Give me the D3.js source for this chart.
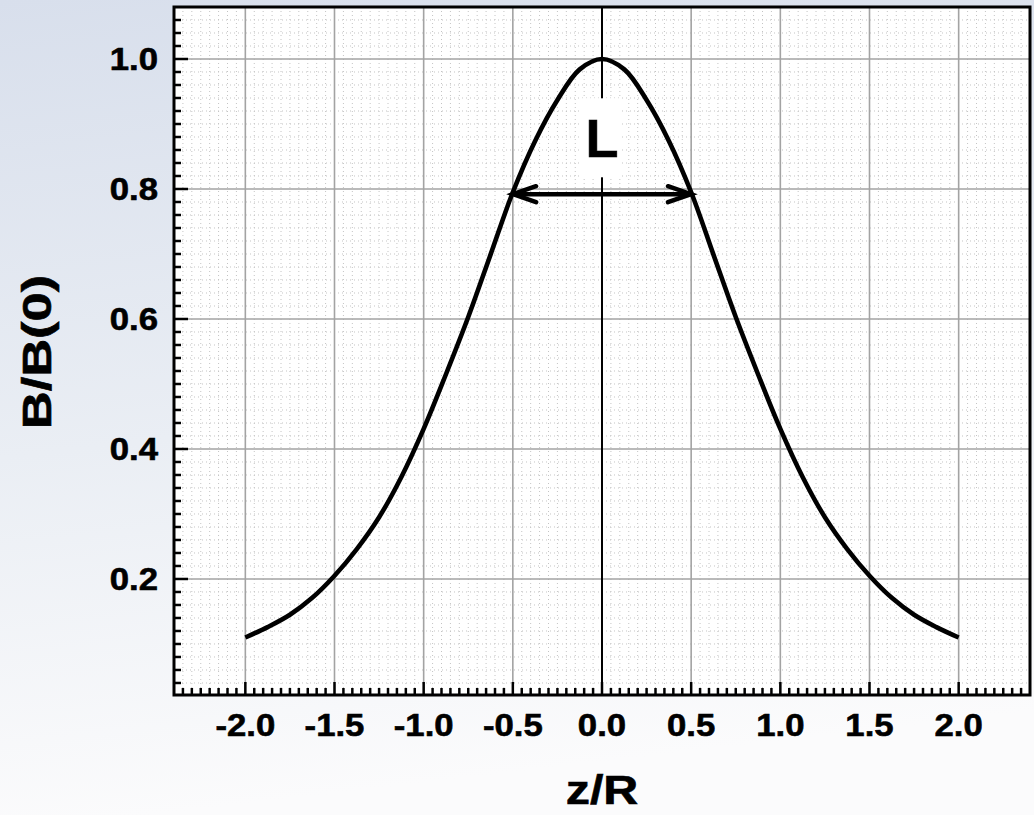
<!DOCTYPE html>
<html>
<head>
<meta charset="utf-8">
<script src="https://cdn.jsdelivr.net/npm/d3@7"></script>
<style>
  html, body { margin: 0; padding: 0; background: #fff; }
  svg { display: block; }
  text { font-family: "Liberation Sans", Arial, Helvetica, sans-serif; font-weight: bold; fill: #000; stroke: #000; stroke-width: 0.6; }
</style>
</head>
<body>
<svg id="chart" width="1034" height="815"></svg>
<script>
// Axial field profile B/B(0) against z/R
const zPoints    = [-2.0, -1.875, -1.75, -1.625, -1.5, -1.375, -1.25, -1.125, -1.0, -0.875, -0.75, -0.625, -0.5, -0.375, -0.25, -0.125, 0.0,
                     0.125, 0.25, 0.375, 0.5, 0.625, 0.75, 0.875, 1.0, 1.125, 1.25, 1.375, 1.5, 1.625, 1.75, 1.875, 2.0];
const fieldRatio = [0.110, 0.126, 0.145, 0.171, 0.205, 0.246, 0.295, 0.357, 0.431, 0.515, 0.603, 0.699, 0.795, 0.874, 0.937, 0.984, 1.000,
                    0.984, 0.937, 0.874, 0.795, 0.699, 0.603, 0.515, 0.431, 0.357, 0.295, 0.246, 0.205, 0.171, 0.145, 0.126, 0.110];

// Axis ticks and labels
const xMajorTicks = [-2.0, -1.5, -1.0, -0.5, 0.0, 0.5, 1.0, 1.5, 2.0];
const xTickLabels = ["-2.0", "-1.5", "-1.0", "-0.5", "0.0", "0.5", "1.0", "1.5", "2.0"];
const yMajorTicks = [0.2, 0.4, 0.6, 0.8, 1.0];
const yTickLabels = ["0.2", "0.4", "0.6", "0.8", "1.0"];
const xTitle = "z/R";
const yTitle = "B/B(0)";

// Width annotation (double arrow) and its label
const widthSpan  = [-0.51, 0.51];
const widthLevel = 0.792;
const widthLabel = "L";
const widthLabelLevel = 0.878;

const svg = d3.select("#chart");
const W = 1034, H = 815;
const plot = { left: 174, right: 1030, top: 7, bottom: 695 };

const x = d3.scaleLinear().domain([-2.4, 2.4]).range([plot.left, plot.right]);
const y = d3.scaleLinear().domain([0.0215, 1.08]).range([plot.bottom, plot.top]);

// page background gradient
const defs = svg.append("defs");
const grad = defs.append("linearGradient").attr("id", "bg").attr("x1", 0).attr("y1", 0).attr("x2", 0.15).attr("y2", 1);
grad.append("stop").attr("offset", "0%").attr("stop-color", "#d8dfec");
grad.append("stop").attr("offset", "55%").attr("stop-color", "#eaeef4");
grad.append("stop").attr("offset", "100%").attr("stop-color", "#fbfbfc");
svg.append("rect").attr("width", W).attr("height", H).attr("fill", "url(#bg)");

// plot area
svg.append("rect")
  .attr("x", plot.left).attr("y", plot.top)
  .attr("width", plot.right - plot.left).attr("height", plot.bottom - plot.top)
  .attr("fill", "#fff");

const round = v => Math.round(v * 1000) / 1000;
const xMinor = d3.range(-47, 48).map(i => round(i * 0.05)).filter(v => !xMajorTicks.some(m => Math.abs(m - v) < 1e-6));
const yMinor = d3.range(2, 55).map(i => round(i * 0.02)).filter(v => v < 1.079 && !yMajorTicks.some(m => Math.abs(m - v) < 1e-6));

// minor dotted grid
const grid = svg.append("g");
grid.selectAll("line.xm").data(xMinor).join("line")
  .attr("x1", d => x(d)).attr("x2", d => x(d))
  .attr("y1", plot.top).attr("y2", plot.bottom)
  .attr("stroke", "#c4c4c4").attr("stroke-width", 1).attr("stroke-dasharray", "1,3");
grid.selectAll("line.ym").data(yMinor).join("line")
  .attr("y1", d => y(d)).attr("y2", d => y(d))
  .attr("x1", plot.left).attr("x2", plot.right)
  .attr("stroke", "#c4c4c4").attr("stroke-width", 1).attr("stroke-dasharray", "1,3");

// major grid
grid.selectAll("line.xM").data(xMajorTicks.filter(d => d !== 0)).join("line")
  .attr("x1", d => x(d)).attr("x2", d => x(d))
  .attr("y1", plot.top).attr("y2", plot.bottom)
  .attr("stroke", "#a3a3a3").attr("stroke-width", 1.6);
grid.selectAll("line.yM").data(yMajorTicks).join("line")
  .attr("y1", d => y(d)).attr("y2", d => y(d))
  .attr("x1", plot.left).attr("x2", plot.right)
  .attr("stroke", "#a3a3a3").attr("stroke-width", 1.6);

// centre line z = 0
svg.append("line")
  .attr("x1", x(0)).attr("x2", x(0)).attr("y1", plot.top).attr("y2", plot.bottom)
  .attr("stroke", "#000").attr("stroke-width", 2);

// label with its white backing
const labelY = y(widthLabelLevel);
svg.append("rect")
  .attr("x", x(0) - 20).attr("y", labelY - 40)
  .attr("width", 40).attr("height", 79)
  .attr("fill", "#fff");
svg.append("text")
  .attr("x", x(0)).attr("y", labelY + 19)
  .attr("text-anchor", "middle")
  .attr("font-size", 54)
  .text(widthLabel);

// field curve
const line = d3.line().x((d, i) => x(zPoints[i])).y(d => y(d)).curve(d3.curveCatmullRom.alpha(0.5));
svg.append("path")
  .datum(fieldRatio)
  .attr("d", line)
  .attr("fill", "none").attr("stroke", "#000").attr("stroke-width", 4.6)
  .attr("stroke-linejoin", "round");

// double-headed width arrow
const ay = y(widthLevel);
const ax0 = x(widthSpan[0]), ax1 = x(widthSpan[1]);
const arrow = svg.append("g").attr("stroke", "#000").attr("fill", "none").attr("stroke-width", 4.5);
arrow.append("line").attr("x1", ax0 + 3).attr("x2", ax1 - 3).attr("y1", ay).attr("y2", ay);
arrow.append("path")
  .attr("d", `M${ax0 + 25},${ay - 8}L${ax0 + 2},${ay}L${ax0 + 25},${ay + 8}`)
  .attr("stroke-linecap", "round").attr("stroke-linejoin", "miter");
arrow.append("path")
  .attr("d", `M${ax1 - 25},${ay - 8}L${ax1 - 2},${ay}L${ax1 - 25},${ay + 8}`)
  .attr("stroke-linecap", "round").attr("stroke-linejoin", "miter");

// frame
svg.append("rect")
  .attr("x", plot.left).attr("y", plot.top)
  .attr("width", plot.right - plot.left).attr("height", plot.bottom - plot.top)
  .attr("fill", "none").attr("stroke", "#000").attr("stroke-width", 3);

// ticks on left and bottom axes (pointing inward)
const ticks = svg.append("g").attr("stroke", "#000").attr("stroke-width", 2.5);
ticks.selectAll("line.yt").data(yMinor).join("line")
  .attr("x1", plot.left).attr("x2", plot.left + 7)
  .attr("y1", d => y(d)).attr("y2", d => y(d));
ticks.selectAll("line.yT").data(yMajorTicks).join("line")
  .attr("x1", plot.left).attr("x2", plot.left + 14)
  .attr("y1", d => y(d)).attr("y2", d => y(d));
ticks.selectAll("line.xt").data(xMinor).join("line")
  .attr("y1", plot.bottom).attr("y2", plot.bottom - 7)
  .attr("x1", d => x(d)).attr("x2", d => x(d));
ticks.selectAll("line.xT").data(xMajorTicks).join("line")
  .attr("y1", plot.bottom).attr("y2", plot.bottom - 13)
  .attr("x1", d => x(d)).attr("x2", d => x(d));

// tick labels
svg.append("g").selectAll("text").data(xMajorTicks).join("text")
  .attr("transform", d => `translate(${x(d)},736) scale(1.12,1)`)
  .attr("text-anchor", "middle")
  .attr("font-size", 31)
  .text((d, i) => xTickLabels[i]);
svg.append("g").selectAll("text").data(yMajorTicks).join("text")
  .attr("transform", d => `translate(158,${y(d) + 11}) scale(1.12,1)`)
  .attr("text-anchor", "end")
  .attr("font-size", 31)
  .text((d, i) => yTickLabels[i]);

// axis titles
svg.append("text")
  .attr("transform", `translate(${x(0)},804) scale(1.18,1)`)
  .attr("text-anchor", "middle")
  .attr("font-size", 41)
  .text(xTitle);
svg.append("text")
  .attr("transform", `translate(51,352) rotate(-90) scale(1.28,1)`)
  .attr("text-anchor", "middle")
  .attr("font-size", 41)
  .text(yTitle);
</script>
</body>
</html>
